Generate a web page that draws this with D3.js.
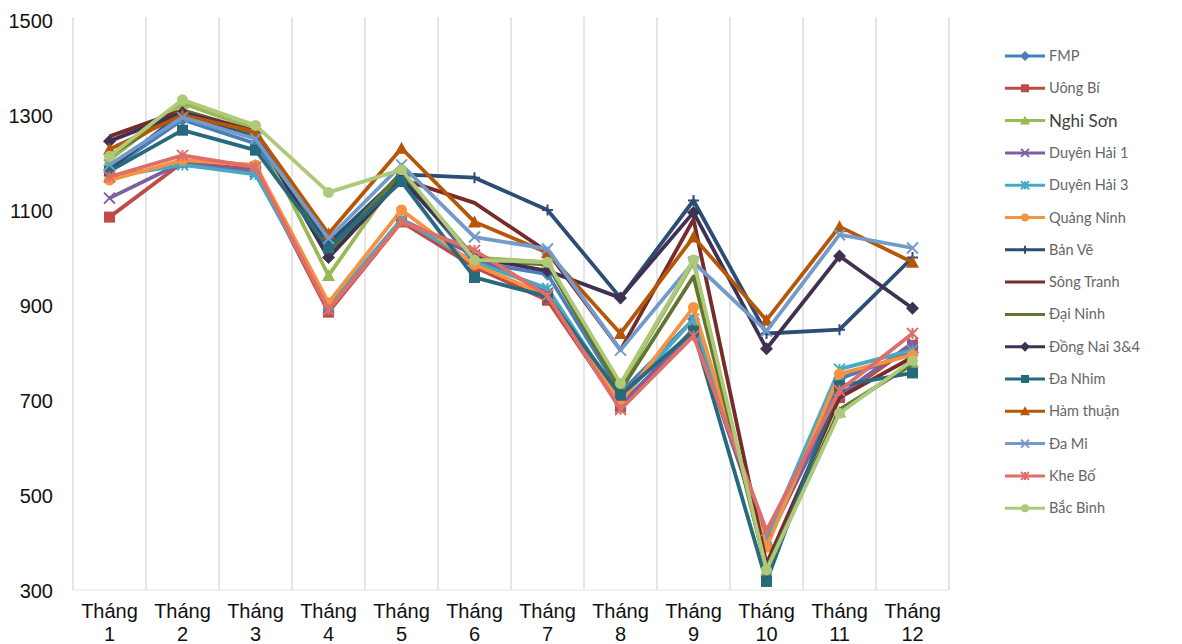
<!DOCTYPE html>
<html><head><meta charset="utf-8">
<script src="https://cdn.jsdelivr.net/npm/d3@7"></script>
<style>
body{margin:0;background:#fff;}
svg{display:block;}
</style></head>
<body>
<svg id="chart" width="1182" height="644"></svg>
<script>
const months = ["1","2","3","4","5","6","7","8","9","10","11","12"];
const yTicks = [300,500,700,900,1100,1300,1500];
const seriesNames = ["FMP","Uông Bí","Nghi Sơn","Duyên Hải 1","Duyên Hải 3","Quảng Ninh","Bản Vẽ","Sông Tranh","Đại Ninh","Đồng Nai 3&4","Đa Nhim","Hàm thuận","Đa Mi","Khe Bố","Bắc Bình"];
const FMP        = [1185,1290,1240,1030,1170, 990, 965, 715, 870, 395, 745, 800];
const UongBi     = [1085,1200,1185, 885,1075, 980, 910, 685, 850, 420, 705, 815];
const NghiSon    = [1205,1325,1270, 962,1180,1000, 990, 730, 990, 340, 675, 780];
const DuyenHai1  = [1125,1200,1180, 895,1080,1005, 925, 690, 845, 400, 710, 820];
const DuyenHai3  = [1170,1195,1175, 900,1080, 990, 935, 700, 870, 410, 765, 805];
const QuangNinh  = [1163,1205,1195, 905,1100, 985, 920, 695, 895, 390, 755, 795];
const BanVe      = [1185,1305,1255,1030,1175,1168,1100, 915,1120, 840, 848,1000];
const SongTranh  = [1255,1310,1265,1000,1165,1115,1012, 805,1080, 355, 705, 790];
const DaiNinh    = [1215,1310,1260,1010,1180, 995, 985, 720, 960, 345, 680, 775];
const DongNai    = [1245,1305,1265,1000,1165,1000, 972, 915,1095, 808,1003, 893];
const DaNhim     = [1182,1268,1226,1020,1160, 958, 918, 710, 845, 318, 730, 757];
const HamThuan   = [1228,1300,1265,1050,1230,1075,1010, 840,1043, 868,1065, 990];
const DaMi       = [1195,1295,1250,1040,1195,1043,1018, 805, 990, 845,1048,1020];
const KheBo      = [1170,1215,1190, 890,1075,1015, 920, 680, 835, 425, 720, 840];
const BacBinh    = [1213,1332,1278,1137,1185, 995, 990, 735, 995, 342, 672, 783];
const seriesValues = [FMP,UongBi,NghiSon,DuyenHai1,DuyenHai3,QuangNinh,BanVe,SongTranh,DaiNinh,DongNai,DaNhim,HamThuan,DaMi,KheBo,BacBinh];
const colors = ["#4A7EBB","#BE4B48","#98B954","#7D60A0","#46AAC5","#F69240","#2C4D75","#772C2A","#5F7530","#403152","#276A7C","#B65708","#729ACA","#DE6E69","#AFC97A"];
const markers = ["diamond","square","triangle","x","star","circle","plus","none","none","diamond","square","triangle","x","star","circle"];

const svg = d3.select("#chart");
const x = d3.scaleBand().domain(months).range([73, 949]).paddingInner(0).paddingOuter(0);
const y = d3.scaleLinear().domain([300, 1500]).range([590, 20]);
const cx = m => x(m) + x.bandwidth() / 2;

// vertical gridlines at category boundaries
const edges = months.map(m => x(m)).concat([x.range()[1]]);
svg.append("g").selectAll("line").data(edges).join("line")
  .attr("x1", d => d).attr("x2", d => d)
  .attr("y1", 17).attr("y2", y(300))
  .attr("stroke", "#dcdcdc").attr("stroke-width", 1.5);
svg.append("line").attr("x1", 73).attr("x2", 949).attr("y1", y(300)).attr("y2", y(300))
  .attr("stroke", "#e3e3e3").attr("stroke-width", 1.2);

// y axis
const yAxis = svg.append("g").attr("transform", "translate(53,0)")
  .call(d3.axisLeft(y).tickValues(yTicks).tickFormat(d3.format("d")).tickSize(0).tickPadding(0));
yAxis.select(".domain").remove();
yAxis.selectAll("text").attr("font-family", "Liberation Sans, Arial, sans-serif")
  .attr("font-size", 20).attr("fill", "#111").attr("dy", "0.35em");

// x axis
const xAxis = svg.append("g").attr("transform", "translate(0,590)")
  .call(d3.axisBottom(x).tickSize(0).tickFormat(""));
xAxis.select(".domain").remove();
xAxis.selectAll(".tick").each(function(d) {
  const t = d3.select(this).append("text")
    .attr("font-family", "Liberation Sans, Arial, sans-serif")
    .attr("font-size", 20).attr("fill", "#111").attr("text-anchor", "middle");
  t.append("tspan").attr("x", 0).attr("y", 28).text("Tháng");
  t.append("tspan").attr("x", 0).attr("y", 51).text(d);
});

function drawMarker(g, type, color, px, py, s) {
  const r = s / 2;
  if (type === "diamond") {
    g.append("path").attr("d", `M${px},${py-r-1}L${px+r+1},${py}L${px},${py+r+1}L${px-r-1},${py}Z`).attr("fill", color);
  } else if (type === "square") {
    g.append("rect").attr("x", px - r).attr("y", py - r).attr("width", s).attr("height", s).attr("fill", color);
  } else if (type === "triangle") {
    g.append("path").attr("d", `M${px},${py-r-1}L${px+r+1},${py+r}L${px-r-1},${py+r}Z`).attr("fill", color);
  } else if (type === "circle") {
    g.append("circle").attr("cx", px).attr("cy", py).attr("r", r).attr("fill", color);
  } else if (type === "x") {
    g.append("path").attr("d", `M${px-r},${py-r}L${px+r},${py+r}M${px-r},${py+r}L${px+r},${py-r}`).attr("stroke", color).attr("stroke-width", 2);
  } else if (type === "star") {
    g.append("path").attr("d", `M${px-r},${py-r}L${px+r},${py+r}M${px-r},${py+r}L${px+r},${py-r}M${px},${py-r}L${px},${py+r}`).attr("stroke", color).attr("stroke-width", 2);
  } else if (type === "plus") {
    g.append("path").attr("d", `M${px},${py-r}L${px},${py+r}M${px-r},${py}L${px+r},${py}`).attr("stroke", color).attr("stroke-width", 2);
  }
}

const line = d3.line().x((d, i) => cx(months[i])).y(d => y(d));
const plot = svg.append("g");
seriesValues.forEach((vals, si) => {
  const g = plot.append("g");
  g.append("path").datum(vals).attr("d", line).attr("fill", "none")
    .attr("stroke", colors[si]).attr("stroke-width", 3.8).attr("stroke-linejoin", "round");
  vals.forEach((v, i) => drawMarker(g, markers[si], colors[si], cx(months[i]), y(v), 11));
});

// legend
const leg = svg.append("g");
seriesNames.forEach((name, i) => {
  const ly = 56 + i * 32.3;
  const g = leg.append("g");
  g.append("line").attr("x1", 1005).attr("x2", 1045).attr("y1", ly).attr("y2", ly)
    .attr("stroke", colors[i]).attr("stroke-width", 3);
  drawMarker(g, markers[i], colors[i], 1025, ly, 8);
  g.append("text").attr("x", 1049).attr("y", ly).attr("dy", "0.35em")
    .attr("font-family", "Lato, 'Open Sans', sans-serif")
    .attr("font-size", name === "Nghi Sơn" ? 17 : 14.5)
    .attr("fill", name === "Nghi Sơn" ? "#404040" : "#666")
    .text(name);
});
</script>
</body></html>
